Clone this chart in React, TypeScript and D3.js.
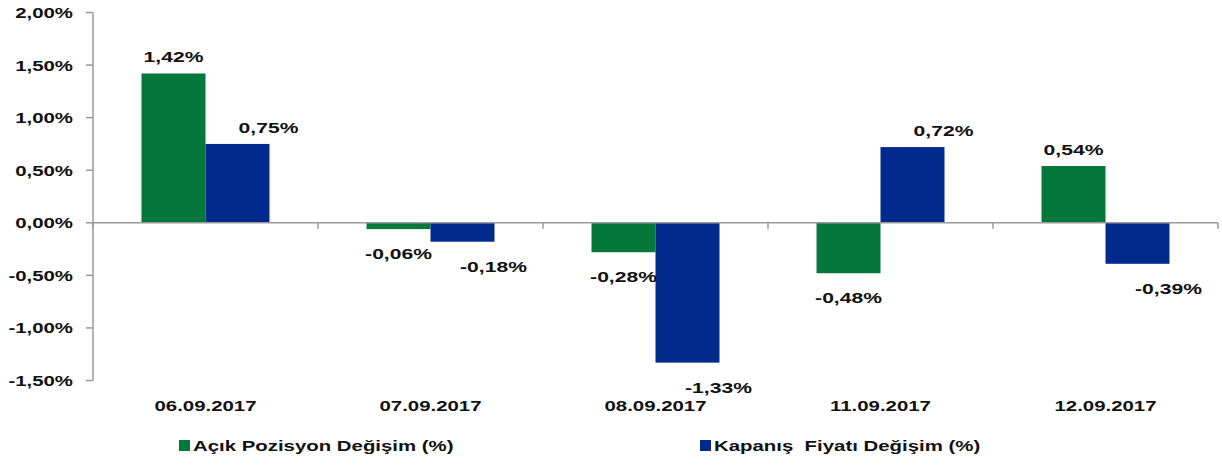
import React from 'react';
import * as d3 from 'd3';

const categories = ['06.09.2017', '07.09.2017', '08.09.2017', '11.09.2017', '12.09.2017'];
const seriesNames = ['Açık Pozisyon Değişim (%)', 'Kapanış  Fiyatı Değişim (%)'];
const acikPozisyon = [1.42, -0.06, -0.28, -0.48, 0.54];
const kapanisFiyati = [0.75, -0.18, -1.33, 0.72, -0.39];
const yTicks = [2, 1.5, 1, 0.5, 0, -0.5, -1, -1.5];

const colors = ['#04773B', '#022A8C'];
// blue labels sit a bit to the right of their bar in the original
const labelShift = [0, 31];

const W = 1222;
const H = 466;
const left = 93;
const right = 1218;
const top = 12.5;
const bottom = 380.5;
const SX = 1.36; // original text is stretched horizontally

const fmt = (v: number) => v.toFixed(2).replace('.', ',') + '%';

// text stretched horizontally around its anchor point
const T = ({ x, y, anchor = 'middle', size = 15, children }: any) => (
  <g transform={`translate(${x},${y}) scale(${SX},1)`}>
    <text
      textAnchor={anchor}
      fontFamily="'Liberation Sans', Arial, sans-serif"
      fontWeight="bold"
      fontSize={size}
      fill="#111"
      style={{ whiteSpace: 'pre' }}
    >
      {children}
    </text>
  </g>
);

export default function App() {
  const series = [acikPozisyon, kapanisFiyati];

  const x = d3.scaleBand<string>().domain(categories).range([left, right]).padding(0);
  const inner = d3
    .scaleBand<number>()
    .domain([0, 1])
    .range([0, x.bandwidth()])
    .paddingInner(0)
    .paddingOuter(0.758);
  const y = d3.scaleLinear().domain([-1.5, 2]).range([bottom, top]);
  const y0 = y(0);

  const boundaries = [...categories.map((c) => x(c) as number), right];

  return (
    <svg width={W} height={H} style={{ position: 'absolute', left: 0, top: 0, background: '#fff' }}>
      {/* y axis */}
      <line x1={left} x2={left} y1={top} y2={bottom} stroke="#9a9a9a" strokeWidth={1.5} />
      {yTicks.map((t) => (
        <g key={t}>
          <line x1={left - 7} x2={left} y1={y(t)} y2={y(t)} stroke="#9a9a9a" strokeWidth={1.5} />
          <T x={73} y={y(t) + 5.5} anchor="end" size={15}>
            {fmt(t)}
          </T>
        </g>
      ))}

      {/* bars */}
      {series.map((vals, si) =>
        vals.map((v, i) => {
          const bx = (x(categories[i]) as number) + (inner(si) as number);
          const bw = inner.bandwidth();
          return (
            <rect
              key={`${si}-${i}`}
              x={bx}
              y={Math.min(y(v), y0)}
              width={bw}
              height={Math.abs(y(v) - y0)}
              fill={colors[si]}
            />
          );
        })
      )}

      {/* x axis at zero */}
      <line x1={left} x2={right} y1={y0} y2={y0} stroke="#9a9a9a" strokeWidth={1.5} />
      {boundaries.map((b, i) => (
        <line key={i} x1={b} x2={b} y1={y0} y2={y0 + 6} stroke="#9a9a9a" strokeWidth={1.5} />
      ))}

      {/* value labels */}
      {series.map((vals, si) =>
        vals.map((v, i) => {
          const cx = (x(categories[i]) as number) + (inner(si) as number) + inner.bandwidth() / 2 + labelShift[si];
          const ly = v >= 0 ? y(v) - 11 : y(v) + 30;
          return (
            <T key={`l${si}-${i}`} x={cx} y={ly} size={15.5}>
              {fmt(v)}
            </T>
          );
        })
      )}

      {/* category labels */}
      {categories.map((c) => (
        <T key={c} x={(x(c) as number) + x.bandwidth() / 2} y={411}>
          {c}
        </T>
      ))}

      {/* legend */}
      {[179, 700].map((lx, si) => (
        <g key={si}>
          <rect x={lx} y={440} width={11} height={11} fill={colors[si]} />
          <T x={lx + 14} y={451} anchor="start" size={15}>
            {seriesNames[si]}
          </T>
        </g>
      ))}
    </svg>
  );
}
